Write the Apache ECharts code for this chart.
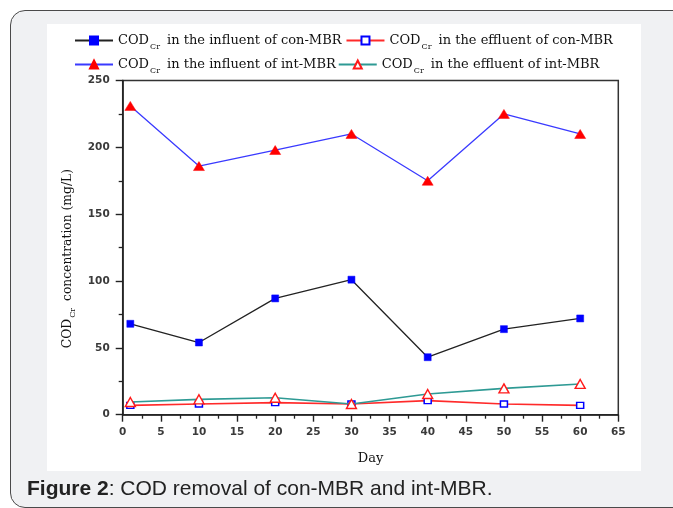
<!DOCTYPE html>
<html>
<head>
<meta charset="utf-8">
<script src="https://cdn.jsdelivr.net/npm/echarts@6/dist/echarts.min.js"></script>
<style>
  html, body { margin: 0; padding: 0; background: #ffffff; overflow: hidden; }
  #wrap { position: relative; width: 673px; height: 508px; overflow: hidden; }
  #frame { position: absolute; left: 10px; top: 10px; width: 680px; height: 496px;
           border: 1.5px solid #4a4a4a; border-radius: 15px; background: #f0f1f3; }
  #panel { position: absolute; left: 47px; top: 24px; width: 594px; height: 447px; background: #ffffff; }
  #chart { position: absolute; left: 0; top: 0; width: 673px; height: 508px; }
</style>
</head>
<body>
<div id="wrap">
  <div id="frame"></div>
  <div id="panel"></div>
  <div id="chart"></div>
</div>
<script>
// ---- data ----
const days = [1, 10, 20, 30, 40, 50, 60];
const conInfluent = [68, 54, 87, 101, 43, 64, 72];
const conEffluent = [7, 8, 9, 8, 10.5, 8, 7];
const intInfluent = [231, 186, 198, 210, 175, 225, 210];
const intEffluent = [9.5, 11.5, 12.7, 8, 15.5, 19.7, 23];
const seriesNames = [
  'CODCr in the influent of con-MBR',
  'CODCr in the effluent of con-MBR',
  'CODCr in the influent of int-MBR',
  'CODCr in the effluent of int-MBR'
];
const xTitle = 'Day';
const yTitle = 'CODCr concentration (mg/L)';
const caption = ['Figure 2', ': COD removal of con-MBR and int-MBR.'];

function pairs(vals) { return days.map((d, i) => [d, vals[i]]); }
function sub(text) {
  const rest = text.replace(/^CODCr/, '');
  return '{n|COD}{s|Cr}{n|' + rest + '}';
}
const serif = 'DejaVu Serif';
const rich = {
  n: { fontFamily: serif, fontSize: 13, color: '#111', lineHeight: 20 },
  s: { fontFamily: serif, fontSize: 8, color: '#111', lineHeight: 4, verticalAlign: 'bottom', padding: [0, 3, 0, 1] }
};
const richY = {
  n: { fontFamily: serif, fontSize: 12.3, color: '#111', lineHeight: 18 },
  s: { fontFamily: serif, fontSize: 8, color: '#111', lineHeight: 6, verticalAlign: 'bottom', padding: [0, 3, 0, 1] }
};

const chart = echarts.init(document.getElementById('chart'), null, { renderer: 'canvas' });
const option = {
  backgroundColor: 'transparent',
  animation: false,
  title: {
    text: '{b|' + caption[0] + '}{r|' + caption[1] + '}',
    left: 27, top: 479, padding: 0,
    textStyle: {
      fontWeight: 'normal',
      rich: {
        b: { fontFamily: 'Liberation Sans', fontSize: 21, fontWeight: 'bold', color: '#222' },
        r: { fontFamily: 'Liberation Sans', fontSize: 21, fontWeight: 'normal', color: '#222' }
      }
    }
  },
  legend: [
    {
      data: [seriesNames[0], seriesNames[1]],
      left: 74, top: 34, padding: 0, itemWidth: 38, itemHeight: 10, itemGap: 4,
      formatter: sub, textStyle: { rich: rich }
    },
    {
      data: [seriesNames[2], seriesNames[3]],
      left: 74, top: 58, padding: 0, itemWidth: 38, itemHeight: 10, itemGap: 2,
      formatter: sub, textStyle: { rich: rich }
    }
  ],
  grid: {
    left: 122.7, right: 54.7, top: 80.5, bottom: 93.3,
    show: true, borderColor: '#333', borderWidth: 1.5, backgroundColor: 'transparent'
  },
  xAxis: {
    type: 'value', min: 0, max: 65, interval: 5,
    name: xTitle, nameLocation: 'middle', nameGap: 37,
    nameTextStyle: { fontFamily: serif, fontSize: 13, color: '#111' },
    axisLine: { show: true, lineStyle: { color: '#222', width: 1.6 } },
    axisTick: { show: true, length: 7, lineStyle: { color: '#222', width: 1.4 } },
    minorTick: { show: true, splitNumber: 2, length: 4, lineStyle: { color: '#222', width: 1.3 } },
    axisLabel: { fontFamily: 'DejaVu Sans', fontSize: 10.5, fontWeight: 'bold', color: '#3a3a3a', margin: 12 },
    splitLine: { show: false }
  },
  yAxis: {
    type: 'value', min: 0, max: 250, interval: 50,
    name: sub(yTitle), nameLocation: 'middle', nameGap: 44,
    nameTextStyle: { rich: richY, padding: [0, 22, 0, 0] },
    axisLine: { show: true, lineStyle: { color: '#222', width: 1.6 } },
    axisTick: { show: true, length: 7, lineStyle: { color: '#222', width: 1.4 } },
    minorTick: { show: true, splitNumber: 2, length: 4, lineStyle: { color: '#222', width: 1.3 } },
    axisLabel: { fontFamily: 'DejaVu Sans', fontSize: 10.5, fontWeight: 'bold', color: '#3a3a3a', margin: 13 },
    splitLine: { show: false }
  },
  series: [
    {
      name: seriesNames[0], type: 'line', data: pairs(conInfluent),
      symbol: 'rect', symbolSize: 7,
      lineStyle: { color: '#222', width: 1.3 },
      itemStyle: { color: '#0000ff', borderColor: '#0000ff', borderWidth: 0.5 },
      z: 3
    },
    {
      name: seriesNames[1], type: 'line', data: pairs(conEffluent),
      symbol: 'rect', symbolSize: [7, 6],
      lineStyle: { color: '#ff2a2a', width: 1.6 },
      itemStyle: { color: '#ffffff', borderColor: '#0000ff', borderWidth: 1.4 },
      z: 3
    },
    {
      name: seriesNames[2], type: 'line', data: pairs(intInfluent),
      symbol: 'triangle', symbolSize: [11, 9],
      lineStyle: { color: '#3a3aff', width: 1.3 },
      itemStyle: { color: '#ff0000', borderColor: '#ff0000', borderWidth: 0.5 },
      z: 4
    },
    {
      name: seriesNames[3], type: 'line', data: pairs(intEffluent),
      symbol: 'triangle', symbolSize: [10, 9],
      lineStyle: { color: '#2e9a94', width: 1.6 },
      itemStyle: { color: '#ffffff', borderColor: '#ff1a1a', borderWidth: 1.4 },
      z: 4
    }
  ]
};
chart.setOption(option);
</script>
</body>
</html>
